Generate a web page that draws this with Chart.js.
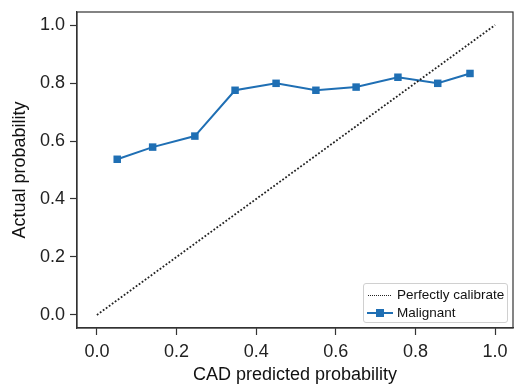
<!DOCTYPE html>
<html>
 <head>
  <meta charset="utf-8" />
  <title>Calibration</title>
  <style>
   body { margin: 0; background: #fff; }
   #wrap { position: relative; width: 514px; height: 386px; }
   #legend {
     position: absolute; left: 363px; top: 283px; width: 143px; height: 38px;
     border: 1px solid #d0d0d0; border-radius: 3px; background: rgba(255,255,255,0.85);
     font-family: "Liberation Sans", Arial, sans-serif; font-size: 13.5px; color: #111;
   }
   .row { position: absolute; left: 0; height: 18px; line-height: 18px; }
   .row span.t { position: absolute; left: 33px; white-space: nowrap; }
   .dots { position: absolute; left: 4px; top: 9px; width: 23px; border-top: 1.6px dotted #222; }
   .ln { position: absolute; left: 3px; top: 8px; width: 26px; border-top: 2px solid #1f6fb4; }
   .sq { position: absolute; left: 12px; top: 5px; width: 8px; height: 8px; background: #1f6fb4; }
  </style>
 </head>
 <body>
  <div id="wrap">
   <canvas id="calChart" width="514" height="386"></canvas>
   <div id="legend">
    <div class="row" style="top:2px;width:143px"><div class="dots"></div><span class="t">Perfectly calibrate</span></div>
    <div class="row" style="top:20px;width:143px"><div class="ln"></div><div class="sq"></div><span class="t">Malignant</span></div>
   </div>
  </div>

  <script src="https://cdn.jsdelivr.net/npm/chart.js@4/dist/chart.umd.min.js"></script>
  <script>
// data
const calX = [0.0, 1.0];
const calY = [0.0, 1.0];
const predX = [0.051, 0.140, 0.246, 0.347, 0.450, 0.550, 0.651, 0.756, 0.856, 0.937];
const actualY = [0.537, 0.579, 0.617, 0.775, 0.799, 0.775, 0.786, 0.820, 0.799, 0.833];
const tickVals = [0.0, 0.2, 0.4, 0.6, 0.8, 1.0];

const font = { family: '"Liberation Sans", Arial, sans-serif', size: 18 };
const ink = '#333';

// box round the plot (top + right spines)
const frame = {
  id: 'frame',
  afterDatasetsDraw(chart) {
    const a = chart.chartArea, ctx = chart.ctx;
    ctx.save();
    ctx.strokeStyle = ink;
    ctx.lineWidth = 1.2;
    ctx.strokeRect(a.left, a.top, a.right - a.left, a.bottom - a.top);
    ctx.restore();
  }
};

function axis(min, max, title, size, isX) {
  return {
    type: 'linear',
    min: min, max: max,
    afterBuildTicks: s => { s.ticks = tickVals.map(v => ({ value: v })); },
    afterFit: s => {
      if (isX) s.height = size; else s.width = size;
      s.paddingLeft = 0; s.paddingRight = 0; s.paddingTop = 0; s.paddingBottom = 0;
    },
    ticks: { callback: v => v.toFixed(1), font: font, color: '#222', padding: isX ? 6 : 5 },
    grid: { drawOnChartArea: false, tickLength: 7, color: ink, tickWidth: 1.2 },
    border: { display: true, color: ink, width: 1.2 },
    title: {
      display: true, text: title, font: font, color: '#111',
      padding: isX ? { top: 0, bottom: 0 } : { top: 9, bottom: 0 }
    }
  };
}

new Chart(document.getElementById('calChart'), {
  type: 'scatter',
  data: {
    datasets: [
      {
        label: 'Perfectly calibrate',
        data: calX.map((x, i) => ({ x: x, y: calY[i] })),
        showLine: true,
        borderColor: '#222',
        borderWidth: 1.8,
        borderDash: [1.8, 1.9],
        pointRadius: 0,
        fill: false
      },
      {
        label: 'Malignant',
        data: predX.map((x, i) => ({ x: x, y: actualY[i] })),
        showLine: true,
        borderColor: '#1f6fb4',
        backgroundColor: '#1f6fb4',
        borderWidth: 2,
        pointStyle: 'rect',
        pointRadius: 5.3,
        pointBorderWidth: 0,
        fill: false
      }
    ]
  },
  options: {
    responsive: false,
    animation: false,
    layout: { autoPadding: false, padding: { top: 12, right: 1, left: 0, bottom: 0 } },
    plugins: { legend: { display: false }, tooltip: { enabled: false } },
    scales: {
      x: axis(-0.05, 1.045, 'CAD predicted probability', 58, true),
      y: axis(-0.045, 1.045, 'Actual probability', 77, false)
    }
  },
  plugins: [frame]
});
  </script>
 </body>
</html>
